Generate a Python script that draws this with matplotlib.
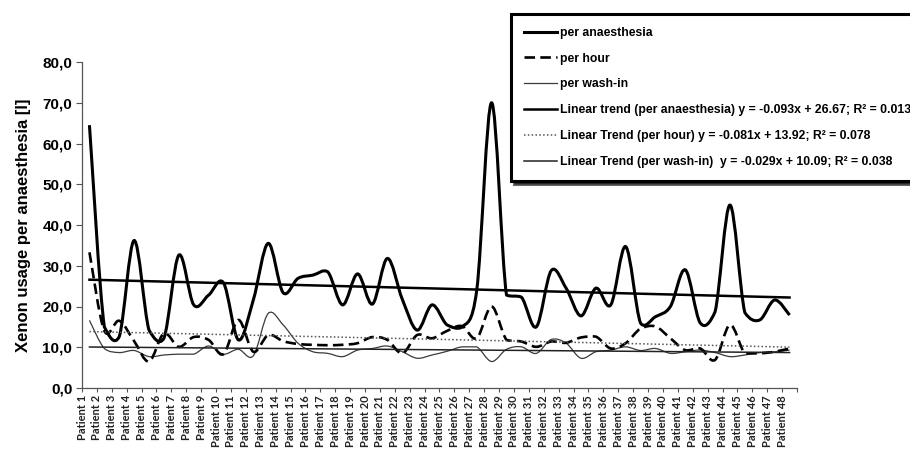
import numpy as np
import matplotlib
matplotlib.use("Agg")
import matplotlib.pyplot as plt
from matplotlib.path import Path
from matplotlib.patches import PathPatch
from matplotlib.lines import Line2D

# ==============================
# Data
# ==============================
patients = [f"Patient {i}" for i in range(1, 49)]

per_anaesthesia = [64.5, 15.0, 12.6, 36.2, 14.2, 12.2, 32.6, 20.4, 22.8, 25.8,
                   11.8, 21.6, 35.5, 23.4, 26.9, 27.7, 28.5, 20.4, 28.0, 20.6,
                   31.8, 21.8, 14.2, 20.4, 15.5, 14.9, 24.0, 70.0, 22.8, 22.3,
                   15.0, 28.8, 24.5, 17.7, 24.5, 20.4, 34.7, 15.9, 17.5, 20.0,
                   29.0, 16.0, 18.7, 44.9, 18.5, 16.7, 21.6, 17.9]

per_hour = [33.3, 14.0, 16.5, 11.5, 6.5, 13.4, 10.1, 12.5, 11.8, 8.3,
            16.7, 8.9, 13.0, 11.5, 10.8, 10.6, 10.5, 10.6, 11.0, 12.5,
            11.8, 8.5, 13.0, 12.2, 14.0, 15.2, 12.2, 20.0, 11.8, 11.4,
            10.1, 11.4, 11.1, 12.4, 12.6, 9.7, 11.0, 14.6, 15.1, 12.2,
            9.3, 9.7, 6.9, 15.5, 8.5, 8.5, 8.9, 9.7]

per_wash_in = [16.6, 9.7, 8.7, 9.2, 7.7, 8.1, 8.3, 8.3, 10.3, 8.3,
               9.5, 7.9, 18.3, 15.5, 11.0, 8.9, 8.5, 7.7, 9.3, 9.7,
               10.3, 8.9, 7.3, 8.1, 9.0, 10.1, 10.1, 6.5, 9.5, 10.1,
               8.5, 11.9, 11.0, 7.3, 8.9, 9.3, 10.1, 9.2, 9.7, 8.5,
               8.9, 9.3, 8.7, 7.7, 8.1, 8.7, 8.9, 9.3]

# trend line coefficients as printed in the legend
trend_slopes = [-0.093, -0.081, -0.029]
trend_intercepts = [26.67, 13.92, 10.09]
trend_r2 = [0.013, 0.078, 0.038]

y_ticks = [0, 10, 20, 30, 40, 50, 60, 70, 80]


# ==============================
# Helpers
# ==============================
def smooth_path(xs, ys):
    # Excel-like smoothed line: cubic Bezier segments through every point,
    # control offsets clamped so steep drops do not overshoot much
    pts = np.column_stack([xs, ys]).astype(float)
    n = len(pts)
    verts = [pts[0]]
    codes = [Path.MOVETO]
    for i in range(n - 1):
        p0 = pts[max(i - 1, 0)]
        p1 = pts[i]
        p2 = pts[i + 1]
        p3 = pts[min(i + 2, n - 1)]
        d1 = (p2 - p0) / 6.0
        d2 = (p3 - p1) / 6.0
        lim = abs(p2[1] - p1[1])
        d1[1] = np.clip(d1[1], -lim, lim)
        d2[1] = np.clip(d2[1], -lim, lim)
        verts += [p1 + d1, p2 - d2, p2]
        codes += [Path.CURVE4] * 3
    return Path(verts, codes)


# ==============================
# Plot
# ==============================
plt.rcParams["font.family"] = ["Liberation Sans", "DejaVu Sans"]

fig = plt.figure(figsize=(9.1, 4.51), dpi=100)
ax = fig.add_axes([82 / 910, 1 - 388 / 451, (797 - 82) / 910, (388 - 62) / 451])

x = np.arange(1, len(patients) + 1)

style_anaes = dict(color="black", lw=2.2)
style_hour = dict(color="black", lw=1.9, ls=(0, (4, 2)))
style_wash = dict(color="#3a3a3a", lw=0.9)

ax.add_patch(PathPatch(smooth_path(x, per_wash_in), fill=False,
                       edgecolor=style_wash["color"], lw=style_wash["lw"], joinstyle="round"))
ax.add_patch(PathPatch(smooth_path(x, per_hour), fill=False,
                       edgecolor=style_hour["color"], lw=style_hour["lw"],
                       linestyle=style_hour["ls"], joinstyle="round"))
ax.add_patch(PathPatch(smooth_path(x, per_anaesthesia), fill=False,
                       edgecolor=style_anaes["color"], lw=style_anaes["lw"], joinstyle="round"))

# trend lines
trend_x = np.array([x[0], x[-1]])
trend_styles = [dict(color="black", lw=1.8, ls="-"),
                dict(color="#555555", lw=1.1, ls=(0, (1, 1.5))),
                dict(color="#222222", lw=1.1, ls="-")]
for a, b, st in zip(trend_slopes, trend_intercepts, trend_styles):
    ax.plot(trend_x, a * trend_x + b, **st)

# axes
ax.set_xlim(0.5, 48.5)
ax.set_ylim(0, 80)
ax.set_yticks(y_ticks)
ax.set_yticklabels([f"{v:.1f}".replace(".", ",") for v in y_ticks],
                   fontsize=11, fontweight="bold")
ax.set_ylabel("Xenon usage per anaesthesia [l]", fontsize=12, fontweight="bold", labelpad=8)

tick_pos = list(np.arange(0.5, 49.0, 1.0))
ax.set_xticks(tick_pos)
ax.set_xticklabels(patients + [""], rotation=90, fontsize=8,
                   family=["Lato", "DejaVu Sans"], fontweight="bold", color="#222222")
ax.tick_params(axis="x", length=3, width=0.8, pad=2, color="#555555")
ax.tick_params(axis="y", length=4, width=0.8, pad=3, color="#555555")

for side in ["top", "right"]:
    ax.spines[side].set_visible(False)
for side in ["left", "bottom"]:
    ax.spines[side].set_color("#555555")
    ax.spines[side].set_linewidth(0.9)

# legend
handles = [
    Line2D([], [], **style_anaes),
    Line2D([], [], **style_hour),
    Line2D([], [], **style_wash),
] + [Line2D([], [], **st) for st in trend_styles]

labels = [
    "per anaesthesia",
    "per hour",
    "per wash-in",
    f"Linear trend (per anaesthesia) y = {trend_slopes[0]:.3f}x + {trend_intercepts[0]:.2f}; R\u00b2 = {trend_r2[0]:.3f}",
    f"Linear Trend (per hour) y = {trend_slopes[1]:.3f}x + {trend_intercepts[1]:.2f}; R\u00b2 = {trend_r2[1]:.3f}",
    f"Linear Trend (per wash-in)  y = {trend_slopes[2]:.3f}x + {trend_intercepts[2]:.2f}; R\u00b2 = {trend_r2[2]:.3f}",
]

leg = fig.legend(handles, labels, loc="upper left",
                 bbox_to_anchor=(511 / 910, 1 - 14 / 451), bbox_transform=fig.transFigure,
                 prop=dict(size=8.8, weight="bold"), handlelength=2.7, handletextpad=0.3,
                 labelspacing=1.13, borderpad=1.05, borderaxespad=0, fancybox=False,
                 shadow={"color": "black", "alpha": 0.6, "ox": 2, "oy": -2})
leg.get_frame().set_edgecolor("black")
leg.get_frame().set_linewidth(2.2)

fig.savefig("out.png", dpi=100)
